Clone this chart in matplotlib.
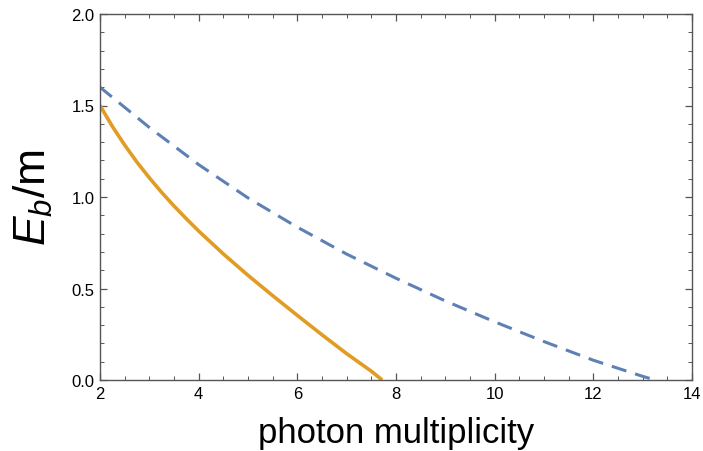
import matplotlib.pyplot as plt
from matplotlib.ticker import MultipleLocator, FormatStrFormatter

plt.rcParams['font.family'] = ['Liberation Sans', 'DejaVu Sans']
plt.rcParams['mathtext.fontset'] = 'custom'
plt.rcParams['mathtext.rm'] = 'Liberation Sans'
plt.rcParams['mathtext.it'] = 'Liberation Sans:italic'

# solid orange curve
x_solid = [2.0, 2.25, 2.5, 2.75, 3.0, 3.25, 3.5, 3.75, 4.0, 4.5, 5.0, 5.5, 6.0, 6.5, 7.0, 7.5, 7.72]
y_solid = [1.50, 1.386, 1.284, 1.19, 1.105, 1.025, 0.951, 0.881, 0.814, 0.689, 0.572,
           0.461, 0.353, 0.247, 0.144, 0.048, 0.0]

# dashed blue curve
x_dash = [2.0, 3.0, 4.0, 5.0, 6.0, 7.0, 8.0, 9.0, 10.0, 11.0, 12.0, 13.0, 13.25]
y_dash = [1.60, 1.38, 1.177, 0.995, 0.835, 0.688, 0.556, 0.432, 0.318, 0.21, 0.108, 0.02, 0.0]

fig = plt.figure(figsize=(7.03, 4.52), dpi=100)
ax = fig.add_axes([100/703, 1 - 381/452, 592/703, 366/452])

ax.plot(x_dash, y_dash, color='#5E81B5', lw=2.2, dashes=(5, 3))
ax.plot(x_solid, y_solid, color='#E19C24', lw=2.6, solid_capstyle='butt')

ax.set_xlim(2, 14)
ax.set_ylim(0, 2)
ax.xaxis.set_major_locator(MultipleLocator(2))
ax.xaxis.set_minor_locator(MultipleLocator(0.5))
ax.yaxis.set_major_locator(MultipleLocator(0.5))
ax.yaxis.set_minor_locator(MultipleLocator(0.1))
ax.yaxis.set_major_formatter(FormatStrFormatter('%.1f'))

for s in ax.spines.values():
    s.set_color('#555555')
    s.set_linewidth(1.0)
ax.tick_params(which='both', direction='in', top=True, right=True,
               color='#555555', labelsize=12, labelcolor='black')
ax.tick_params(which='major', length=5, width=0.9, pad=4)
ax.tick_params(which='minor', length=2.8, width=0.7)

ax.set_xlabel('photon multiplicity', fontsize=25, labelpad=11)
ax.set_ylabel('$E_b$/m', fontsize=32, labelpad=12)

fig.savefig('out.png', dpi=100)
